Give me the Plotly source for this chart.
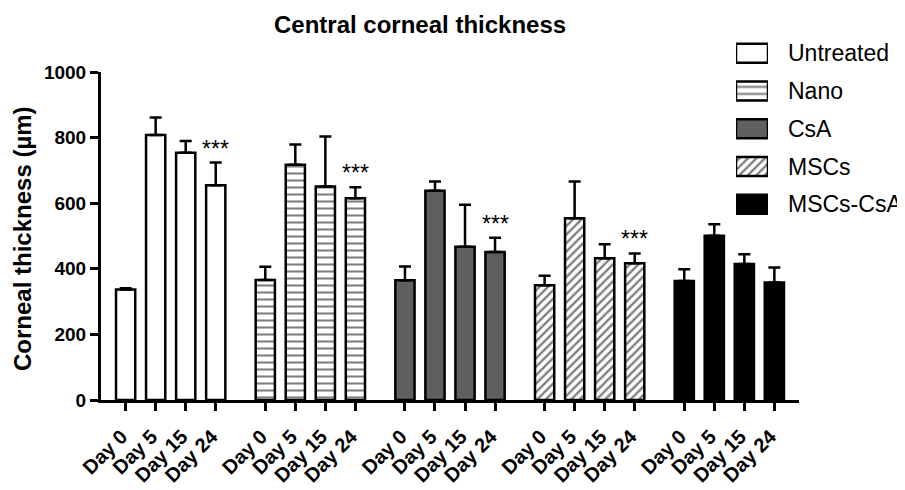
import plotly.graph_objects as go

# ---------------- data ----------------
groups = ["Untreated", "Nano", "CsA", "MSCs", "MSCs-CsA"]
days = ["Day 0", "Day 5", "Day 15", "Day 24"]

untreated_mean = [337, 808, 754, 655]
untreated_sd = [4, 53, 36, 69]
nano_mean = [366, 717, 651, 615]
nano_sd = [40, 62, 152, 34]
csa_mean = [365, 638, 467, 451]
csa_sd = [42, 28, 128, 44]
mscs_mean = [350, 554, 432, 417]
mscs_sd = [29, 112, 43, 30]
mscs_csa_mean = [363, 501, 415, 358]
mscs_csa_sd = [36, 35, 29, 46]

means = [untreated_mean, nano_mean, csa_mean, mscs_mean, mscs_csa_mean]
sds = [untreated_sd, nano_sd, csa_sd, mscs_sd, mscs_csa_sd]
significance_day24 = ["***", "***", "***", "***", ""]

y_ticks = [0, 200, 400, 600, 800, 1000]

# ---------------- layout geometry ----------------
OFF = 8                      # default page margin of the html body
W, H = 905 - OFF, 490 - OFF


def px(v):                   # target-screen x pixel -> paper fraction
    return (v - OFF) / W


def py(v):                   # target-screen y pixel -> paper fraction
    return 1 - (v - OFF) / H


FONT = "Liberation Sans, Arial, Helvetica, sans-serif"
GROUP_PERIOD = 4.65
BAR_W = 0.64
LINE_W = 2.5

styles = [
    dict(color="white"),
    dict(color="white", pattern=dict(shape="-", fgcolor="black", bgcolor="white", size=7, solidity=0.3)),
    dict(color="#5f5f5f"),
    dict(color="white", pattern=dict(shape="/", fgcolor="black", bgcolor="white", size=6, solidity=0.4)),
    dict(color="black"),
]

fig = go.Figure()

tickvals, ticktext = [], []
annotations = []
for g, name in enumerate(groups):
    xs = [g * GROUP_PERIOD + i for i in range(len(days))]
    tickvals += xs
    ticktext += days
    marker = dict(styles[g])
    marker["line"] = dict(color="black", width=LINE_W)
    fig.add_trace(go.Bar(
        x=xs, y=means[g], width=BAR_W, name=name, marker=marker,
        error_y=dict(type="data", symmetric=False, array=sds[g],
                     arrayminus=[0] * len(days), color="black",
                     thickness=2.5, width=6),
        showlegend=False, xaxis="x", yaxis="y",
    ))
    if significance_day24[g]:
        annotations.append(dict(
            x=xs[-1], y=means[g][-1] + sds[g][-1], xref="x", yref="y",
            text=significance_day24[g], showarrow=False,
            xanchor="center", yanchor="bottom", yshift=-1,
            font=dict(family=FONT, size=23, color="black"),
        ))

# ---------------- legend (drawn with a small bar axis) ----------------
row_top, row_h = 34.4, 37.75
leg_bottom = row_top + row_h * len(groups)
for g, name in enumerate(groups):
    marker = dict(styles[g])
    marker["line"] = dict(color="black", width=LINE_W)
    fig.add_trace(go.Bar(
        x=[1], y=[g], base=0, orientation="h", width=0.5, marker=marker,
        showlegend=False, hoverinfo="skip", xaxis="x2", yaxis="y2",
    ))
    yc = row_top + row_h * (g + 0.5)
    annotations.append(dict(
        x=px(786), y=py(yc), xref="paper", yref="paper",
        text=name, showarrow=False, xanchor="left", yanchor="middle",
        font=dict(family=FONT, size=23, color="black"),
    ))

# title & y-axis title
annotations.append(dict(
    x=px(420), y=py(25), xref="paper", yref="paper",
    text="<b>Central corneal thickness</b>", showarrow=False,
    xanchor="center", yanchor="middle",
    font=dict(family=FONT, size=24, color="black"),
))
annotations.append(dict(
    x=px(22), y=py(239), xref="paper", yref="paper",
    text="<b>Corneal thickness (µm)</b>", showarrow=False, textangle=-90,
    xanchor="center", yanchor="middle",
    font=dict(family=FONT, size=24, color="black"),
))

x0, x1 = 101, 799
y_top, y_bot = 72, 400
fig.update_layout(
    width=W, height=H, autosize=False,
    margin=dict(l=0, r=0, t=0, b=0, autoexpand=False),
    paper_bgcolor="white", plot_bgcolor="white",
    barmode="overlay",
    font=dict(family=FONT, color="black"),
    xaxis=dict(
        domain=[px(x0), px(x1)], range=[-0.82, (len(groups) - 1) * GROUP_PERIOD + 3 + 0.82],
        tickmode="array", tickvals=tickvals, ticktext=ticktext, tickangle=-45,
        ticks="outside", ticklen=8, tickwidth=2.5, tickcolor="black",
        ticklabelstandoff=6, ticklabelshift=-4,
        showline=True, linewidth=3, linecolor="black", showgrid=False, zeroline=False,
        tickfont=dict(family=FONT, size=20, color="black", weight="bold"),
        automargin=False,
    ),
    yaxis=dict(
        domain=[py(y_bot), py(y_top)], range=[0, 1000],
        tickmode="array", tickvals=y_ticks,
        ticks="outside", ticklen=8, tickwidth=2.5, tickcolor="black",
        showline=True, linewidth=3, linecolor="black", showgrid=False, zeroline=False,
        tickfont=dict(family=FONT, size=19, color="black", weight="bold"),
        automargin=False,
    ),
    xaxis2=dict(domain=[px(736), px(768)], range=[0, 1], visible=False, anchor="y2"),
    yaxis2=dict(domain=[py(leg_bottom), py(row_top)], range=[len(groups) - 0.5, -0.5],
                visible=False, anchor="x2"),
    annotations=annotations,
)

fig.write_html("out.html")
